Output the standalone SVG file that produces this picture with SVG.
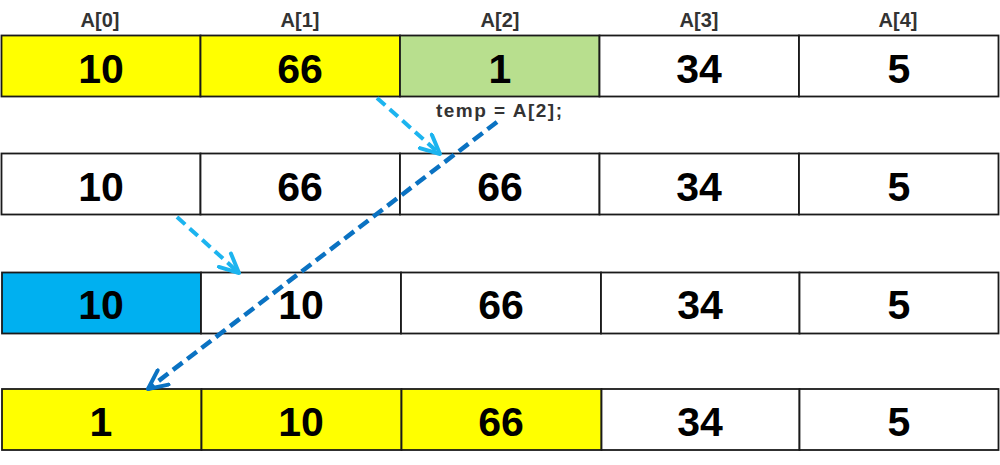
<svg xmlns="http://www.w3.org/2000/svg" width="1000" height="465" viewBox="0 0 1000 465">
  <style>
    .cell { stroke: #1a1a1a; stroke-width: 1.8; }
    .w { fill: #ffffff; }
    .y { fill: #ffff00; }
    .g { fill: #b8df8e; }
    .b { fill: #00b0f0; }
    .num { font-family: "Liberation Sans", Arial, sans-serif; font-weight: bold; font-size: 41px; fill: #000; text-anchor: middle; }
    .hdr { font-family: "Liberation Sans", Arial, sans-serif; font-weight: bold; font-size: 20px; fill: #333; text-anchor: middle; }
    .lbl { font-family: "Liberation Sans", Arial, sans-serif; font-weight: bold; font-size: 19px; fill: #333; }
    .la { fill: none; stroke: #1cb4ef; stroke-width: 4; stroke-dasharray: 11 6; }
    .da { fill: none; stroke: #0a72c2; stroke-width: 4.5; stroke-dasharray: 12 6; }
  </style>
  <defs>
    <marker id="headL" viewBox="0 0 24 22" refX="21" refY="11" markerWidth="24" markerHeight="22" markerUnits="userSpaceOnUse" orient="auto">
      <path d="M2,2 L21,11 L2,20" fill="none" stroke="#1cb4ef" stroke-width="4" stroke-linecap="round" stroke-linejoin="round"/>
    </marker>
    <marker id="headD" viewBox="0 0 24 22" refX="21" refY="11" markerWidth="24" markerHeight="22" markerUnits="userSpaceOnUse" orient="auto">
      <path d="M2,2 L21,11 L2,20" fill="none" stroke="#0a72c2" stroke-width="4" stroke-linecap="round" stroke-linejoin="round"/>
    </marker>
  </defs>
  <rect x="0" y="0" width="1000" height="465" fill="#ffffff"/>

  <g id="headers">
    <text class="hdr" x="100" y="27">A[0]</text>
    <text class="hdr" x="300" y="27">A[1]</text>
    <text class="hdr" x="500" y="27">A[2]</text>
    <text class="hdr" x="699" y="27">A[3]</text>
    <text class="hdr" x="898" y="27">A[4]</text>
  </g>

  <g id="row1">
    <rect class="cell y" x="1.5" y="35.5" width="199" height="61"/>
    <rect class="cell y" x="200.5" y="35.5" width="199.5" height="61"/>
    <rect class="cell g" x="400" y="35.5" width="199.5" height="61"/>
    <rect class="cell w" x="599.5" y="35.5" width="199.5" height="61"/>
    <rect class="cell w" x="799" y="35.5" width="199.5" height="61"/>
    <text class="num" x="101" y="83">10</text>
    <text class="num" x="300" y="83">66</text>
    <text class="num" x="500" y="83">1</text>
    <text class="num" x="699" y="83">34</text>
    <text class="num" x="899" y="83">5</text>
  </g>

  <g id="row2">
    <rect class="cell w" x="1.5" y="153.5" width="199" height="61"/>
    <rect class="cell w" x="200.5" y="153.5" width="199.5" height="61"/>
    <rect class="cell w" x="400" y="153.5" width="199.5" height="61"/>
    <rect class="cell w" x="599.5" y="153.5" width="199.5" height="61"/>
    <rect class="cell w" x="799" y="153.5" width="199.5" height="61"/>
    <text class="num" x="101" y="201">10</text>
    <text class="num" x="300" y="201">66</text>
    <text class="num" x="500" y="201">66</text>
    <text class="num" x="699" y="201">34</text>
    <text class="num" x="899" y="201">5</text>
  </g>

  <g id="row3">
    <rect class="cell b" x="2" y="272.5" width="199" height="61"/>
    <rect class="cell w" x="201" y="272.5" width="200" height="61"/>
    <rect class="cell w" x="401" y="272.5" width="200" height="61"/>
    <rect class="cell w" x="601" y="272.5" width="198.5" height="61"/>
    <rect class="cell w" x="799.5" y="272.5" width="199" height="61"/>
    <text class="num" x="101" y="319">10</text>
    <text class="num" x="301" y="319">10</text>
    <text class="num" x="501" y="319">66</text>
    <text class="num" x="700" y="319">34</text>
    <text class="num" x="899" y="319">5</text>
  </g>

  <g id="row4">
    <rect class="cell y" x="2" y="389" width="199.5" height="61"/>
    <rect class="cell y" x="201.5" y="389" width="200" height="61"/>
    <rect class="cell y" x="401.5" y="389" width="200" height="61"/>
    <rect class="cell w" x="601.5" y="389" width="198" height="61"/>
    <rect class="cell w" x="799.5" y="389" width="199" height="61"/>
    <text class="num" x="101" y="436">1</text>
    <text class="num" x="301" y="436">10</text>
    <text class="num" x="501" y="436">66</text>
    <text class="num" x="700" y="436">34</text>
    <text class="num" x="899" y="436">5</text>
  </g>

  <g id="label">
    <text class="lbl" x="436" y="117" textLength="126" lengthAdjust="spacing">temp = A[2];</text>
  </g>

  <g id="connectors">
    <line class="la" x1="377" y1="98" x2="440" y2="154" marker-end="url(#headL)"/>
    <line class="la" x1="177" y1="217" x2="239" y2="273" marker-end="url(#headL)"/>
    <line class="da" x1="497" y1="122" x2="148" y2="389" marker-end="url(#headD)"/>
  </g>
</svg>
